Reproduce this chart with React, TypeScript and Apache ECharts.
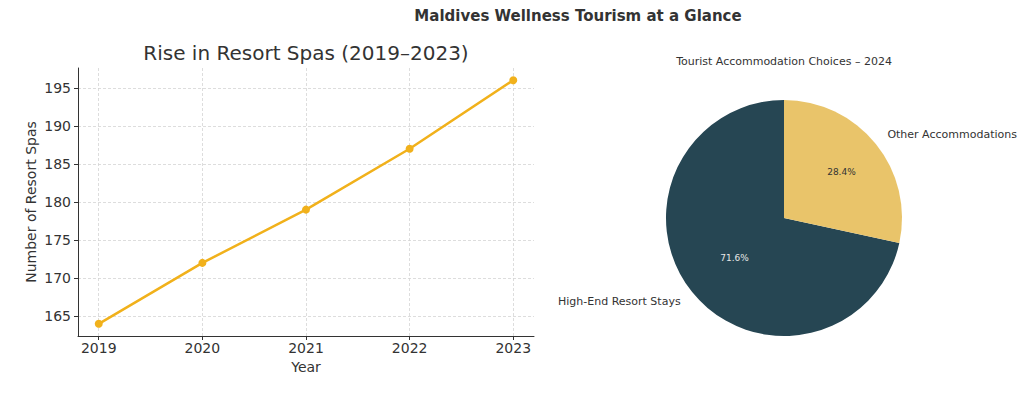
import React, { useEffect, useRef } from "react";
import * as echarts from "echarts";

const years = [2019, 2020, 2021, 2022, 2023];
const spas = [164, 172, 179, 187, 196];
const yTicks = [165, 170, 175, 180, 185, 190, 195];
const pieNames = ["High-End Resort Stays", "Other Accommodations"];
const pieValues = [71.6, 28.4];
const pieColors = ["#264653", "#e9c46a"];
const pctColors = ["#e6e6e6", "#333333"];

const FONT = "DejaVu Sans";

export default function App() {
  const ref = useRef<HTMLDivElement>(null);
  useEffect(() => {
    if (!ref.current) return;
    const chart = echarts.init(ref.current, undefined, { renderer: "svg" });
    const R = 118;
    const center = [784, 218];
    chart.setOption({
      animation: false,
      backgroundColor: "#ffffff",
      textStyle: { fontFamily: FONT },
      graphic: [
        {
          type: "text",
          x: 578,
          y: 16,
          style: {
            text: "Maldives Wellness Tourism at a Glance",
            align: "center",
            verticalAlign: "middle",
            font: `bold 15px "${FONT}"`,
            fill: "#333333",
          },
        },
        {
          type: "text",
          x: 306,
          y: 53,
          style: {
            text: "Rise in Resort Spas (2019–2023)",
            align: "center",
            verticalAlign: "middle",
            font: `20px "${FONT}"`,
            fill: "#333333",
          },
        },
        {
          type: "text",
          x: 784,
          y: 61,
          style: {
            text: "Tourist Accommodation Choices – 2024",
            align: "center",
            verticalAlign: "middle",
            font: `11px "${FONT}"`,
            fill: "#333333",
          },
        },
      ],
      grid: { left: 78, top: 68, width: 456, height: 268, containLabel: false },
      xAxis: {
        type: "value",
        min: 2018.8,
        max: 2023.2,
        name: "Year",
        nameLocation: "middle",
        nameGap: 24,
        nameTextStyle: { fontSize: 14, color: "#333", fontFamily: FONT },
        axisLine: { show: true, onZero: false, lineStyle: { color: "#333", width: 1 } },
        axisTick: { show: true, length: 4, lineStyle: { color: "#333" }, customValues: years },
        axisLabel: {
          customValues: years,
          fontSize: 14,
          color: "#333",
          margin: 5,
          fontFamily: FONT,
          formatter: (v: number) => String(v),
        },
        splitLine: { show: true, lineStyle: { color: "#d4d4d4", type: [3, 2], width: 0.8 } },
      },
      yAxis: {
        type: "value",
        min: 162.4,
        max: 197.6,
        name: "Number of Resort Spas",
        nameLocation: "middle",
        nameGap: 40,
        nameTextStyle: { fontSize: 14, color: "#333", fontFamily: FONT },
        axisLine: { show: true, onZero: false, lineStyle: { color: "#333", width: 1 } },
        axisTick: { show: true, length: 4, lineStyle: { color: "#333" }, customValues: yTicks },
        axisLabel: {
          customValues: yTicks,
          fontSize: 14,
          color: "#333",
          margin: 7,
          fontFamily: FONT,
        },
        splitLine: { show: true, lineStyle: { color: "#d4d4d4", type: [3, 2], width: 0.8 } },
      },
      series: [
        {
          type: "line",
          data: years.map((y, i) => [y, spas[i]]),
          lineStyle: { color: "#f1b11b", width: 2.5 },
          itemStyle: { color: "#f1b11b" },
          symbol: "circle",
          symbolSize: 8,
          silent: true,
        },
        {
          type: "pie",
          center,
          radius: [0, R],
          startAngle: 90,
          clockwise: false,
          silent: true,
          label: { show: false },
          labelLine: { show: false },
          data: pieNames.map((n, i) => ({
            name: n,
            value: pieValues[i],
            itemStyle: { color: pieColors[i] },
          })),
        },
        {
          type: "pie",
          center,
          radius: [0.2 * R, R],
          startAngle: 90,
          clockwise: false,
          silent: true,
          z: 5,
          itemStyle: { color: "rgba(0,0,0,0)" },
          labelLine: { show: false },
          label: {
            show: true,
            position: "inside",
            fontSize: 9,
            fontFamily: FONT,
            formatter: (p: any) => `${Number(p.value).toFixed(1)}%`,
          },
          data: pieNames.map((n, i) => ({
            name: n,
            value: pieValues[i],
            label: { color: pctColors[i], offset: i === 0 ? [8, -6] : [0, 0] },
          })),
        },
        {
          type: "pie",
          center,
          radius: [1.05 * R, 1.15 * R],
          startAngle: 90,
          clockwise: false,
          silent: true,
          z: 5,
          itemStyle: { color: "rgba(0,0,0,0)" },
          labelLine: { show: false },
          label: {
            show: true,
            position: "inside",
            fontSize: 11,
            color: "#333",
            fontFamily: FONT,
            formatter: "{b}",
          },
          labelLayout: (p: any) => ({
            align: p.dataIndex === 0 ? "right" : "left",
            verticalAlign: "middle",
          }),
          data: pieNames.map((n, i) => ({ name: n, value: pieValues[i] })),
        },
      ],
    });
    return () => chart.dispose();
  }, []);
  return (
    <div
      ref={ref}
      style={{ position: "fixed", left: 0, top: 0, width: 1024, height: 395 }}
    />
  );
}
